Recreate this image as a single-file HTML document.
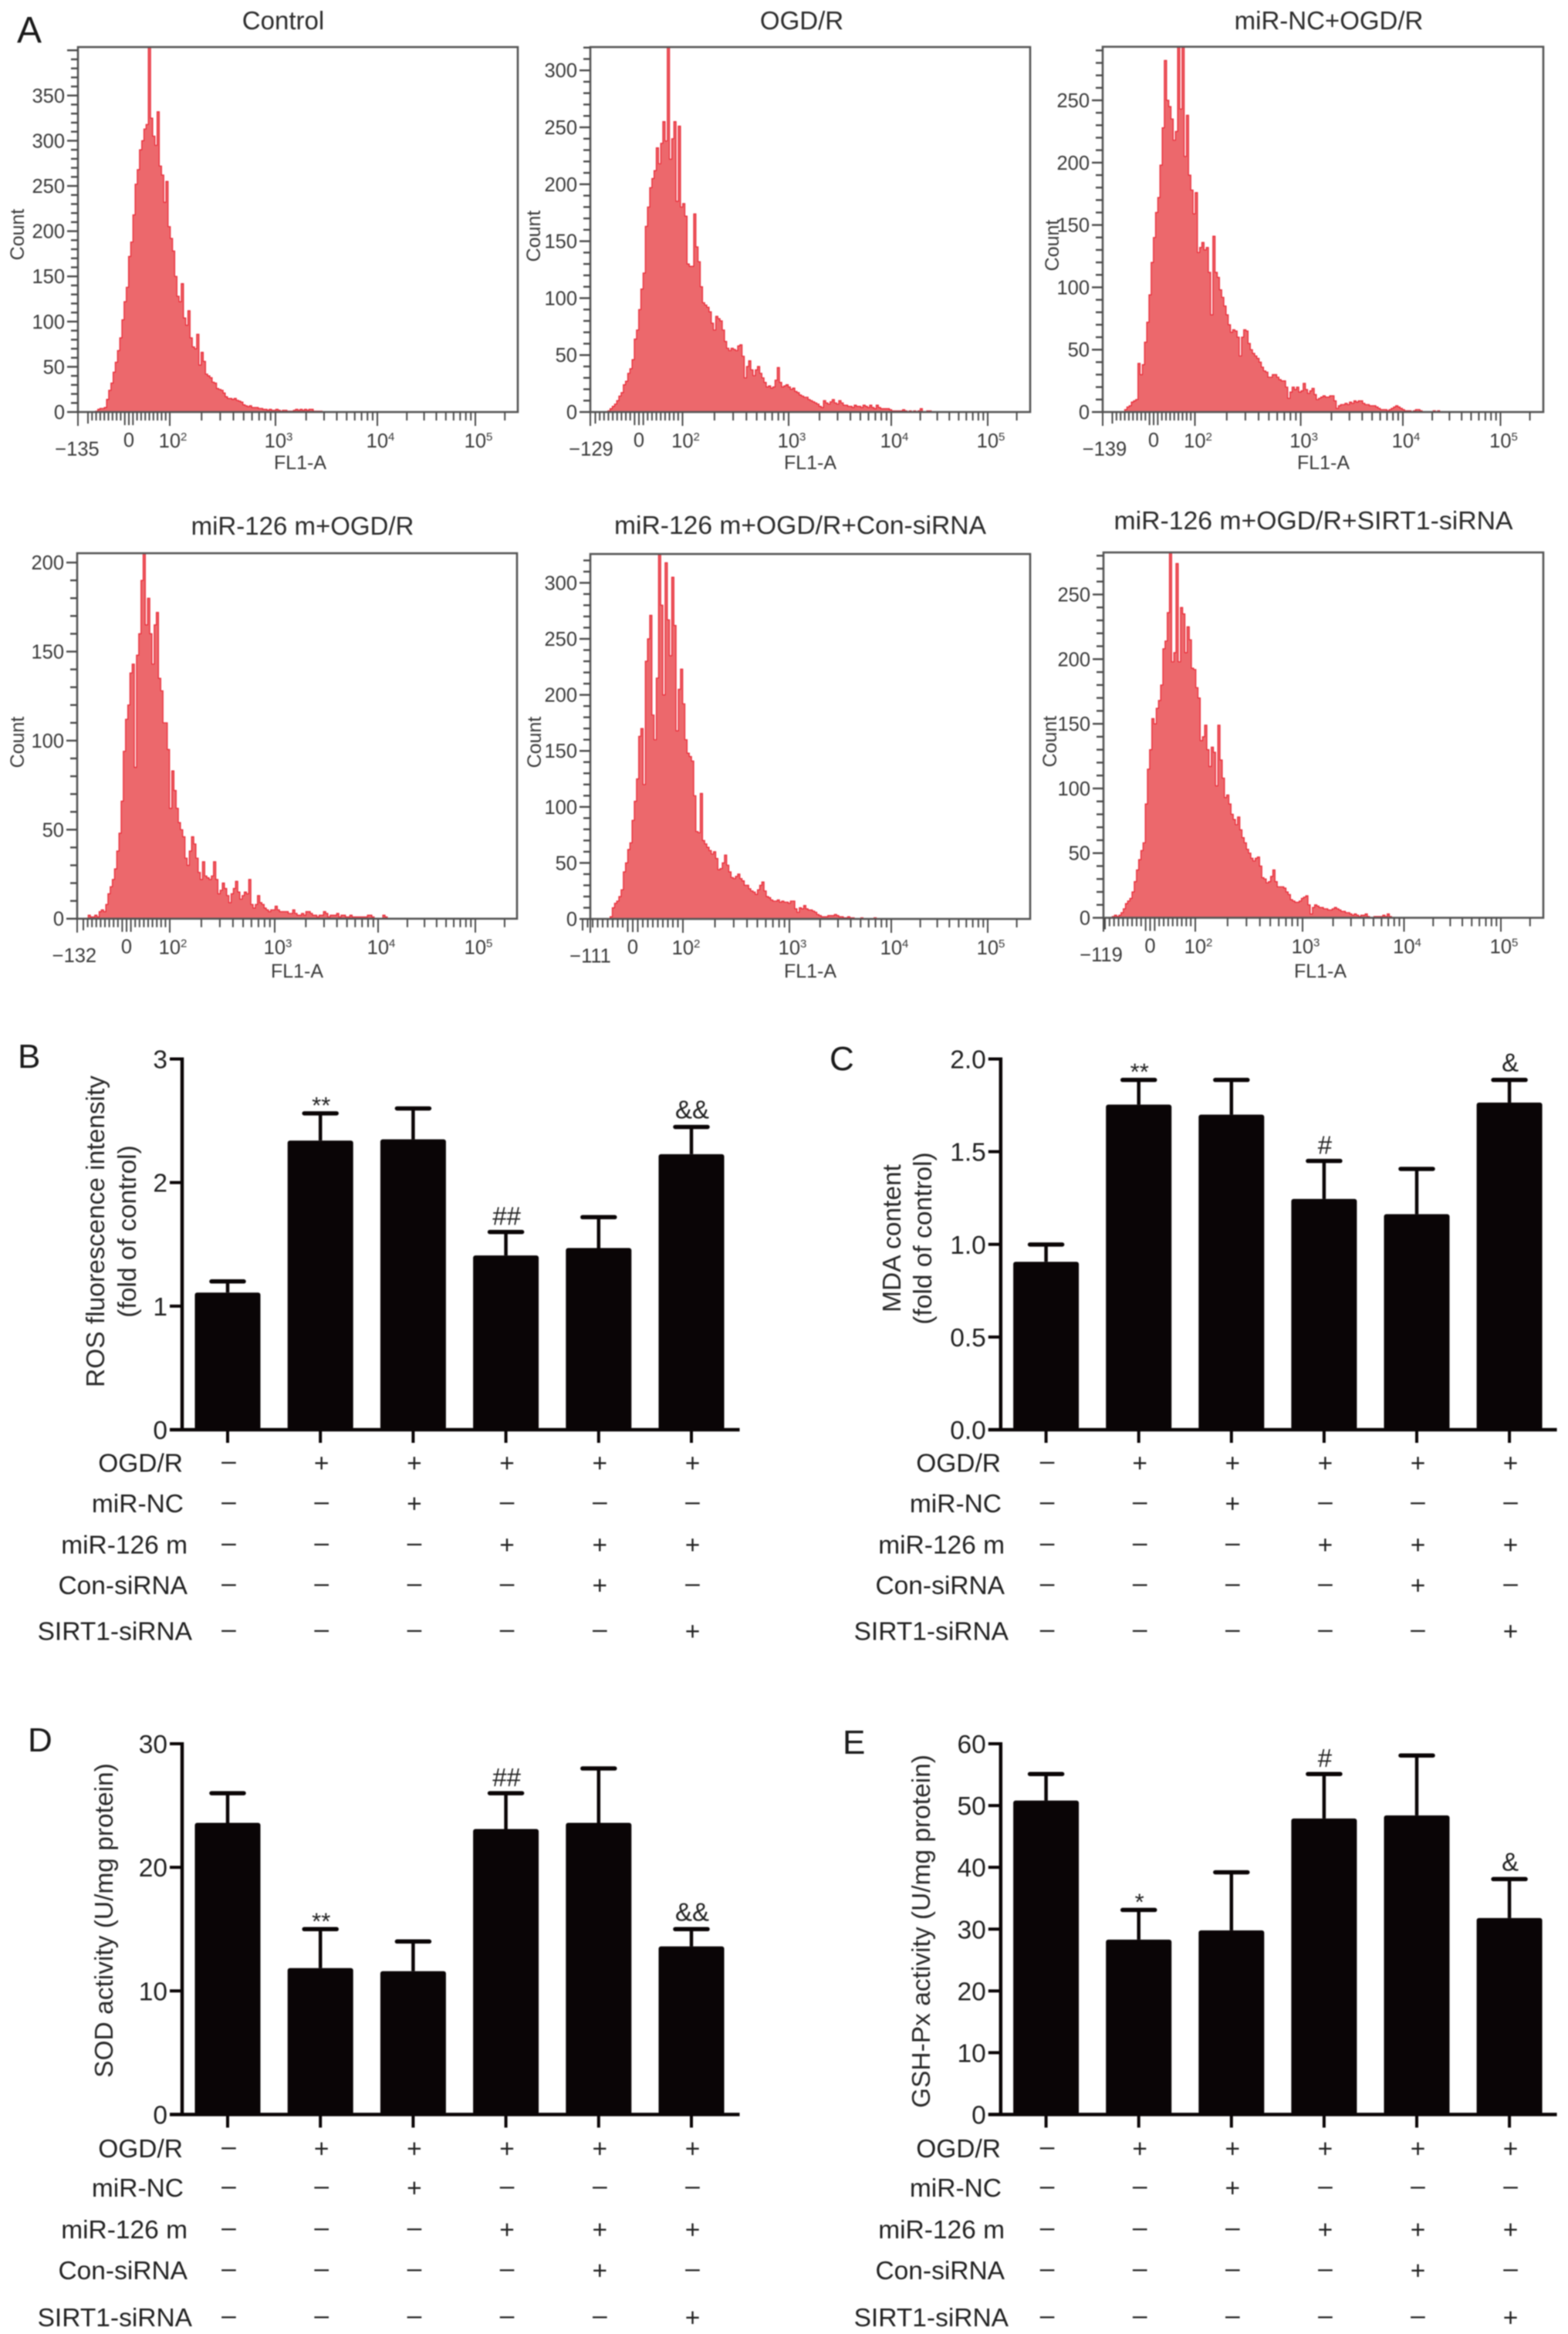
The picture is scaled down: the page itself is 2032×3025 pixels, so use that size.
<!DOCTYPE html>
<html lang="en">
<head>
<meta charset="utf-8">
<title>ROS flow cytometry and oxidative stress panels</title>
<style>
html,body{margin:0;padding:0;background:#fff;}
svg{display:block;font-family:"Liberation Sans",Arial,sans-serif;filter:blur(0.7px);}
.title{font-size:33px;fill:#2c2c2c;text-anchor:middle;}
.count{font-size:25px;fill:#3a3a3a;text-anchor:middle;}
.fl{font-size:25px;fill:#3a3a3a;text-anchor:middle;}
.letter{fill:#1a1a1a;}
.ytitle{font-size:33.5px;fill:#2a2a2a;text-anchor:middle;}
.row{font-size:33.5px;fill:#222;text-anchor:end;}
</style>
</head>
<body>
<svg id="figure" xmlns="http://www.w3.org/2000/svg" width="2032" height="3025" viewBox="0 0 2032 3025">
<rect width="2032" height="3025" fill="#fff"/>
<text class="letter" x="22" y="55" font-size="48">A</text>
<text class="letter" x="23" y="1384" font-size="44">B</text>
<text class="letter" x="1075" y="1387" font-size="44">C</text>
<text class="letter" x="36" y="2270" font-size="44">D</text>
<text class="letter" x="1092" y="2273" font-size="44">E</text>

<text class="title" x="367" y="38">Control</text>
<text class="title" x="1039" y="38">OGD/R</text>
<text class="title" x="1722" y="38">miR-NC+OGD/R</text>
<text class="title" x="392" y="693">miR-126 m+OGD/R</text>
<text class="title" x="1037" y="692" textLength="482" lengthAdjust="spacingAndGlyphs">miR-126 m+OGD/R+Con-siRNA</text>
<text class="title" x="1702" y="686" textLength="517" lengthAdjust="spacingAndGlyphs">miR-126 m+OGD/R+SIRT1-siRNA</text>

<text class="count" transform="translate(31 304) rotate(-90)">Count</text>
<text class="count" transform="translate(700 306) rotate(-90)">Count</text>
<text class="count" transform="translate(1372 318) rotate(-90)">Count</text>
<text class="count" transform="translate(31 962) rotate(-90)">Count</text>
<text class="count" transform="translate(701 962) rotate(-90)">Count</text>
<text class="count" transform="translate(1369 961) rotate(-90)">Count</text>

<text class="fl" x="389" y="608">FL1-A</text>
<text class="fl" x="1050" y="608">FL1-A</text>
<text class="fl" x="1715" y="608">FL1-A</text>
<text class="fl" x="385" y="1267">FL1-A</text>
<text class="fl" x="1050" y="1267">FL1-A</text>
<text class="fl" x="1711" y="1267">FL1-A</text>

<text class="ytitle" transform="translate(135 1596) rotate(-90)">ROS fluorescence intensity</text>
<text class="ytitle" transform="translate(176 1596) rotate(-90)">(fold of control)</text>
<text class="ytitle" transform="translate(1167 1605) rotate(-90)">MDA content</text>
<text class="ytitle" transform="translate(1207 1605) rotate(-90)">(fold of control)</text>
<text class="ytitle" transform="translate(146 2489) rotate(-90)">SOD activity (U/mg protein)</text>
<text class="ytitle" transform="translate(1205 2503) rotate(-90)">GSH-Px activity (U/mg protein)</text>

<g>
<text class="row" x="237" y="1907.5">OGD/R</text><text class="row" x="238" y="1960">miR-NC</text><text class="row" x="243" y="2013.5">miR-126 m</text><text class="row" x="243" y="2066">Con-siRNA</text><text class="row" x="249" y="2125.5">SIRT1-siRNA</text>
</g>
<g>
<text class="row" x="1297" y="1907.5">OGD/R</text><text class="row" x="1298" y="1960">miR-NC</text><text class="row" x="1302" y="2013.5">miR-126 m</text><text class="row" x="1302" y="2066">Con-siRNA</text><text class="row" x="1307" y="2125.5">SIRT1-siRNA</text>
</g>
<g>
<text class="row" x="237" y="2796">OGD/R</text><text class="row" x="238" y="2847">miR-NC</text><text class="row" x="243" y="2901">miR-126 m</text><text class="row" x="243" y="2954">Con-siRNA</text><text class="row" x="249" y="3015">SIRT1-siRNA</text>
</g>
<g>
<text class="row" x="1297" y="2796">OGD/R</text><text class="row" x="1298" y="2847">miR-NC</text><text class="row" x="1302" y="2901">miR-126 m</text><text class="row" x="1302" y="2954">Con-siRNA</text><text class="row" x="1307" y="3015">SIRT1-siRNA</text>
</g>
<g id="charts"></g>
</svg>
<script>
// Histogram counts per display bin
const countsControl = [0,0,0,0,0,0,0,0,1,3,4,4,5,14,24,32,44,55,68,82,102,122,138,172,188,218,252,268,290,300,313,318,405,325,305,295,332,272,262,232,255,205,192,178,150,128,122,142,104,96,112,82,72,70,86,52,66,56,42,40,38,33,32,26,25,24,21,17,15,15,14,15,13,12,11,8,7,6,7,5,5,5,4,4,3,3,2,3,2,2,3,2,1,2,2,1,1,1,2,3,2,3,2,3,2,3,3,1,1,1,1];
const countsOgd = [0,0,0,0,0,0,0,0,1,3,5,7,10,14,17,24,27,34,38,46,64,72,90,108,122,163,180,197,205,212,232,218,236,255,238,330,222,240,255,185,251,180,183,172,130,128,128,174,145,132,110,96,94,92,88,78,72,84,82,80,72,62,56,54,56,55,54,58,59,49,30,40,45,37,32,37,40,34,30,26,22,23,21,22,28,39,26,22,23,24,22,20,21,18,17,15,14,13,13,11,10,9,8,7,5,4,10,8,7,9,11,8,7,10,8,6,6,5,5,4,6,5,5,4,6,5,4,6,4,3,6,4,3,3,3,3,2,1,1,1,1,1,2,1,0,1,0,1,0,1,3,0,0,1,1];
const countsMirNc = [0,0,0,0,0,0,0,0,0,0,2,4,5,8,9,10,39,30,38,56,72,94,120,140,160,172,198,228,282,250,245,235,218,225,310,243,320,205,238,190,178,159,176,128,132,136,130,132,112,78,141,112,108,98,92,85,78,70,64,66,65,60,45,60,66,65,55,50,47,45,43,40,36,33,32,28,28,30,30,28,26,25,25,20,11,16,20,18,20,16,17,23,18,15,17,19,14,10,11,12,13,12,12,13,13,9,3,5,6,6,7,6,8,7,9,8,9,9,7,6,6,5,5,5,4,3,2,2,2,1,2,3,4,5,4,3,2,1,1,1,0,1,2,2,1,0,0,0,0,0,1,0,1];
const countsMir126 = [0,0,0,0,0,2,1,1,2,1,4,5,4,8,14,18,22,28,38,48,66,94,112,120,138,143,85,148,160,190,240,165,180,160,143,165,172,135,128,110,110,95,62,83,72,62,54,50,46,34,30,38,46,42,34,26,22,32,24,23,22,24,32,22,14,16,20,17,13,9,14,17,21,15,11,13,15,14,22,8,6,8,13,9,8,6,5,4,5,5,7,5,4,4,4,4,3,3,5,3,2,2,3,2,4,4,3,2,2,1,2,2,4,3,1,2,2,2,3,1,2,2,1,1,2,1,1,1,1,1,1,1,2,2,1,0,0,0,0,2,1];
const countsConSirna = [0,0,0,0,0,0,0,0,0,2,10,14,16,20,26,42,50,62,68,88,105,125,163,170,120,230,250,271,182,160,215,326,280,200,318,267,235,305,262,168,205,223,192,160,148,145,141,110,78,77,112,70,67,64,61,58,60,54,44,45,50,57,48,42,37,36,38,40,36,34,30,30,27,25,24,22,26,30,33,25,20,19,17,16,16,17,15,16,15,15,14,16,16,9,6,10,9,12,9,8,8,7,6,4,3,2,2,2,3,3,3,4,3,2,2,1,1,2,1,1,0,0,0,1,0,0,0,0,0,1];
const countsSirtSirna = [0,0,0,0,1,2,1,2,4,7,11,13,15,20,28,37,45,52,58,88,115,130,154,150,162,168,180,208,214,236,320,198,205,274,198,240,235,205,225,215,193,192,178,170,137,140,149,130,117,132,128,102,149,122,108,93,95,88,80,76,72,78,68,62,58,53,50,46,44,46,47,40,31,30,27,28,32,37,28,24,24,24,23,20,18,14,13,12,12,13,15,16,17,10,3,8,10,9,8,8,7,7,6,6,7,8,7,6,5,5,4,4,3,2,3,2,1,2,2,3,1,0,0,1,1,1,1,2,1,3,1];

// Histogram y tick labels
const yTicksControl = [0,50,100,150,200,250,300,350];
const yTicksOgd = [0,50,100,150,200,250,300];
const yTicksMirNc = [0,50,100,150,200,250];
const yTicksMir126 = [0,50,100,150,200];
const yTicksConSirna = [0,50,100,150,200,250,300];
const yTicksSirtSirna = [0,50,100,150,200,250];
const xDecades = [2,3,4,5];

// Bar chart categories, treatment grid and values
const treatmentRows = [
  [0,1,1,1,1,1],
  [0,0,1,0,0,0],
  [0,0,0,1,1,1],
  [0,0,0,0,1,0],
  [0,0,0,0,0,1]
];
const groups = ['control','ogd-r','mir-nc','mir-126m','con-sirna','sirt1-sirna'];

const rosMeans = [1.11,2.34,2.35,1.41,1.47,2.23];
const rosUppers = [1.20,2.56,2.60,1.60,1.72,2.45];
const rosMarks = ['','**','','##','','&&'];
const rosTicks = ['0','1','2','3'];

const mdaMeans = [0.906,1.754,1.70,1.245,1.163,1.765];
const mdaUppers = [0.999,1.887,1.887,1.45,1.407,1.887];
const mdaMarks = ['','**','','#','','&'];
const mdaTicks = ['0.0','0.5','1.0','1.5','2.0'];

const sodMeans = [23.6,11.85,11.6,23.1,23.6,13.6];
const sodUppers = [26,15,14,26,28,15];
const sodMarks = ['','**','','##','','&&'];
const sodTicks = ['0','10','20','30'];

const gshMeans = [50.8,28.3,29.8,47.9,48.4,31.8];
const gshUppers = [55.1,33.1,39.2,55.1,58.1,38.1];
const gshMarks = ['','*','','#','','&'];
const gshTicks = ['0','10','20','30','40','50','60'];

const SVGNS = 'http://www.w3.org/2000/svg';
const root = document.getElementById('charts');
function el(tag, attrs, parent, text){
  const n = document.createElementNS(SVGNS, tag);
  for (const k in attrs) n.setAttribute(k, attrs[k]);
  if (text !== undefined) n.textContent = text;
  parent.appendChild(n);
  return n;
}

const TICK_COLOR = '#4a4a4a', LABEL_COLOR = '#3a3a3a';
function drawHistogram(cfg, counts, yTicks, id){
  const g = el('g', {}, root);
  
  
  const yScale = c => cfg.B - c * cfg.per50 / 50;
  const binX = i => cfg.L + i * (cfg.R - cfg.L) / 200;
  const decadeX = cfg.dec;
  const xScale = v => {
    if (Math.abs(v) <= 100) return cfg.x0 + v / 100 * (decadeX[0] - cfg.x0);
    const lg = Math.log10(v), k = Math.floor(lg) - 2;
    const a = decadeX[Math.min(k, 3)];
    const step = k < 3 ? decadeX[k + 1] - decadeX[k] : decadeX[3] - decadeX[2];
    return a + (lg - Math.floor(lg)) * step;
  };
  const clip = el('clipPath', {id: 'clip-' + id}, g);
  el('rect', {x: cfg.L, y: cfg.T, width: cfg.R - cfg.L, height: cfg.B - cfg.T}, clip);

  let d = 'M' + binX(0) + ' ' + cfg.B;
  counts.forEach((c, i) => {
    d += 'V' + yScale(c).toFixed(1) + 'H' + binX(i + 1).toFixed(1);
  });
  d += 'V' + cfg.B + 'Z';
  const area = el('path', {d: d, fill: '#ec686c', stroke: '#e8202e', 'stroke-width': 1.2, 'stroke-linejoin': 'miter', 'clip-path': 'url(#clip-' + id + ')'}, g);
  
  

  const box = el('rect', {x: cfg.L, y: cfg.T, width: cfg.R - cfg.L, height: cfg.B - cfg.T, fill: 'none', stroke: '#555', 'stroke-width': 2.6}, g);
  
  

  // y ticks
  const maxV = (cfg.B - cfg.T) / cfg.per50 * 50;
  for (let v = 0; v <= maxV; v += 10) {
    const major = v % 50 === 0;
    const t = el('line', {x1: cfg.L - (major ? 14 : 9), x2: cfg.L, y1: yScale(v), y2: yScale(v), stroke: TICK_COLOR, 'stroke-width': 2.4}, g);
    
    
  }
  yTicks.forEach(v => {
    const t = el('text', {x: cfg.L - 17, y: yScale(v) + 9, 'font-size': 25.5, fill: LABEL_COLOR, 'text-anchor': 'end'}, g, String(v));
    
    
  });

  // x ticks
  const tick = (x, len) => {
    const t = el('line', {x1: x, x2: x, y1: cfg.B, y2: cfg.B + len, stroke: TICK_COLOR, 'stroke-width': 2}, g);
    
    
  };
  tick(cfg.L, 18);
  for (let v = -100; v < 100; v += 10) tick(xScale(v), Math.abs(v) <= 10 ? 17 : (v === -100 ? 15 : 11));
  xDecades.forEach(e => {
    tick(xScale(Math.pow(10, e)), 18);
    if (e < 5) for (let m = 2; m < 10; m++) tick(xScale(m * Math.pow(10, e)), 11);
  });
  tick(xScale(2e5), 11);

  const labY = cfg.B + 45;
  const neg = el('text', {x: cfg.negX, y: labY + 11.5, 'font-size': 25.5, fill: LABEL_COLOR, 'text-anchor': 'middle'}, g, cfg.neg);
  
  
  const zero = el('text', {x: cfg.x0, y: labY, 'font-size': 25.5, fill: LABEL_COLOR, 'text-anchor': 'middle'}, g, '0');
  
  
  xDecades.forEach((e, k) => {
    const t = el('text', {x: decadeX[k] + 4, y: labY + 1, 'font-size': 25.5, fill: LABEL_COLOR, 'text-anchor': 'middle'}, g);
    
    
    el('tspan', {}, t, '10');
    el('tspan', {dy: -9, 'font-size': 15}, t, String(e));
  });
}

drawHistogram({L:101,R:671,T:61,B:534,per50:58.6,x0:167,dec:[220,357,489,616],neg:'\u2212135',negX:100}, countsControl, yTicksControl, 'control');
drawHistogram({L:765,R:1335,T:61,B:534,per50:73.8,x0:828,dec:[884.5,1022,1155,1280],neg:'\u2212129',negX:766}, countsOgd, yTicksOgd, 'ogd-r');
drawHistogram({L:1429,R:2000,T:60.6,B:534,per50:80.8,x0:1495,dec:[1548.5,1685.6,1818,1944.5],neg:'\u2212139',negX:1431.5}, countsMirNc, yTicksMirNc, 'mir-nc');
drawHistogram({L:100,R:670,T:717,B:1190.7,per50:115.4,x0:164,dec:[220,356,490,616],neg:'\u2212132',negX:96.4}, countsMir126, yTicksMir126, 'mir-126');
drawHistogram({L:765,R:1335,T:718,B:1191,per50:72.6,x0:820,dec:[885,1023,1155,1280],neg:'\u2212111',negX:765}, countsConSirna, yTicksConSirna, 'con-sirna');
drawHistogram({L:1430,R:2000,T:716,B:1189.5,per50:83.8,x0:1490.5,dec:[1549,1688,1819.5,1945],neg:'\u2212119',negX:1427}, countsSirtSirna, yTicksSirtSirna, 'sirt1-sirna');

const BAR_COLOR = '#0a0506';
function drawBars(cfg, means, uppers, marks, ticks, id){
  const g = el('g', {}, root);
  
  
  const yMax = parseFloat(ticks[ticks.length - 1]);
  const yScale = v => cfg.y0 - v / yMax * (cfg.y0 - cfg.yTop);
  const xScale = i => cfg.cx + i * cfg.step;

  groups.forEach((name, i) => {
    const x = xScale(i);
    const stem = el('line', {x1: x, x2: x, y1: yScale(means[i]), y2: yScale(uppers[i]), stroke: BAR_COLOR, 'stroke-width': 4.5}, g);
    
    
    const cap = el('line', {x1: x - 21, x2: x + 21, y1: yScale(uppers[i]), y2: yScale(uppers[i]), stroke: BAR_COLOR, 'stroke-width': 5.5, 'stroke-linecap': 'round'}, g);
    
    
    const bar = el('rect', {x: x - 42.5, y: yScale(means[i]), width: 85, height: cfg.y0 - yScale(means[i]), rx: 3, fill: BAR_COLOR}, g);
    
    
    const tk = el('line', {x1: x, x2: x, y1: cfg.y0, y2: cfg.y0 + 17, stroke: BAR_COLOR, 'stroke-width': 4}, g);
    
    
    if (marks[i]) {
      const m = marks[i];
      const isStar = m[0] === '*';
      const isHash = m[0] === '#';
      const sign = el('text', {x: x + 1, y: yScale(uppers[i]) - (isStar ? 0 : (isHash ? 9 : 11)), 'font-size': isStar ? 31 : 33, fill: '#222', 'text-anchor': 'middle'}, g, m);
      
      
    }
  });

  const yAxis = el('line', {x1: cfg.axis, x2: cfg.axis, y1: cfg.yTop - 2, y2: cfg.y0 + 2, stroke: BAR_COLOR, 'stroke-width': 4.5}, g);
  
  
  const xAxis = el('line', {x1: cfg.axis - 16, x2: cfg.right, y1: cfg.y0, y2: cfg.y0, stroke: BAR_COLOR, 'stroke-width': 4.5}, g);
  
  

  ticks.forEach(label => {
    const v = parseFloat(label);
    const tk = el('line', {x1: cfg.axis - 16, x2: cfg.axis, y1: yScale(v), y2: yScale(v), stroke: BAR_COLOR, 'stroke-width': 4}, g);
    
    
    const t = el('text', {x: cfg.axis - 19, y: yScale(v) + 12, 'font-size': 33.5, fill: '#222', 'text-anchor': 'end'}, g, label);
    
    
  });

  treatmentRows.forEach((row, r) => {
    row.forEach((on, i) => {
      const s = el('text', {x: xScale(i) + 1.5, y: cfg.rows[r] + (on ? 12 : 9), 'font-size': 33.5, fill: '#222', 'text-anchor': 'middle'}, g, on ? '+' : '\u2013');
      
      
    });
  });
}

const rowsTop = [1895.5,1948,2001.5,2054,2113.5];
const rowsBottom = [2784,2835,2889,2942,3003];
drawBars({axis:236,right:958.5,y0:1853,yTop:1372.5,cx:295,step:120.2,rows:rowsTop}, rosMeans, rosUppers, rosMarks, rosTicks, 'ros');
drawBars({axis:1296.8,right:2017.6,y0:1853,yTop:1372.5,cx:1355.6,step:120.1,rows:rowsTop}, mdaMeans, mdaUppers, mdaMarks, mdaTicks, 'mda');
drawBars({axis:236,right:958.5,y0:2740.5,yTop:2260,cx:295,step:120.2,rows:rowsBottom}, sodMeans, sodUppers, sodMarks, sodTicks, 'sod');
drawBars({axis:1296.8,right:2017.6,y0:2740.5,yTop:2260,cx:1355.6,step:120.1,rows:rowsBottom}, gshMeans, gshUppers, gshMarks, gshTicks, 'gsh-px');
</script>
</body>
</html>
